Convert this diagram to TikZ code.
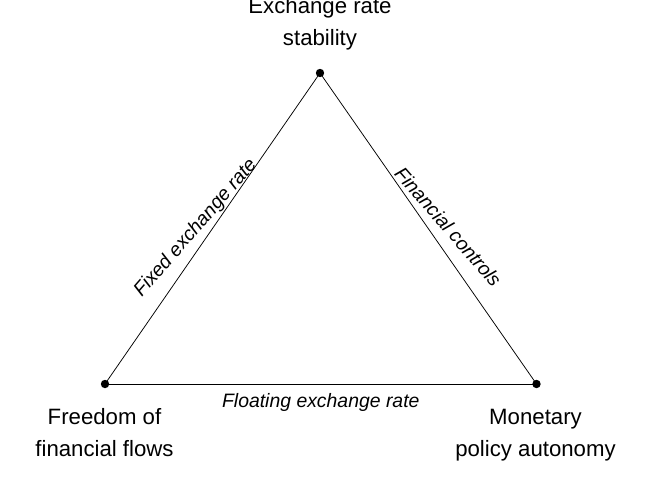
\documentclass[tikz,border=0pt]{standalone}
\usepackage{fontspec}
\setmainfont{Liberation Sans}
\tikzset{
  vlabel/.style={anchor=north, inner sep=0pt, align=center, font=\fontsize{22.2}{32}\selectfont},
  elabel/.style={inner sep=0pt, font=\fontsize{19.4}{23}\selectfont\itshape},
  vdot/.style={circle, fill=black, inner sep=0pt, minimum size=8.4pt},
  edge/.style={line width=0.75pt, black}
}
\begin{document}
\begin{tikzpicture}[x=1pt, y=-1pt]
\useasboundingbox (0,0) rectangle (672,480);
\node[vdot] (top) at (320,73) {};
\node[vdot] (left) at (105,384) {};
\node[vdot] (right) at (536.5,384) {};
\draw[edge] (top.center) -- (left.center);
\draw[edge] (top.center) -- (right.center);
\draw[edge] (left.center) -- (right.center);
\node[vlabel] (ltop) at (320,-3) {Exchange rate\\stability};
\node[vlabel] (lleft) at (104.5,408) {Freedom of\\financial flows};
\node[vlabel] (lright) at (535.5,409) {Monetary\\policy autonomy};
\node[elabel, anchor=base] (efloat) at (320.8,407.3) {Floating exchange rate};
\node[elabel, rotate=49] (efixed) at (195.8,228.3) {Fixed exchange rate};
\node[elabel, rotate=-49] (efin) at (448.3,226.7) {Financial controls};
\end{tikzpicture}
\end{document}
